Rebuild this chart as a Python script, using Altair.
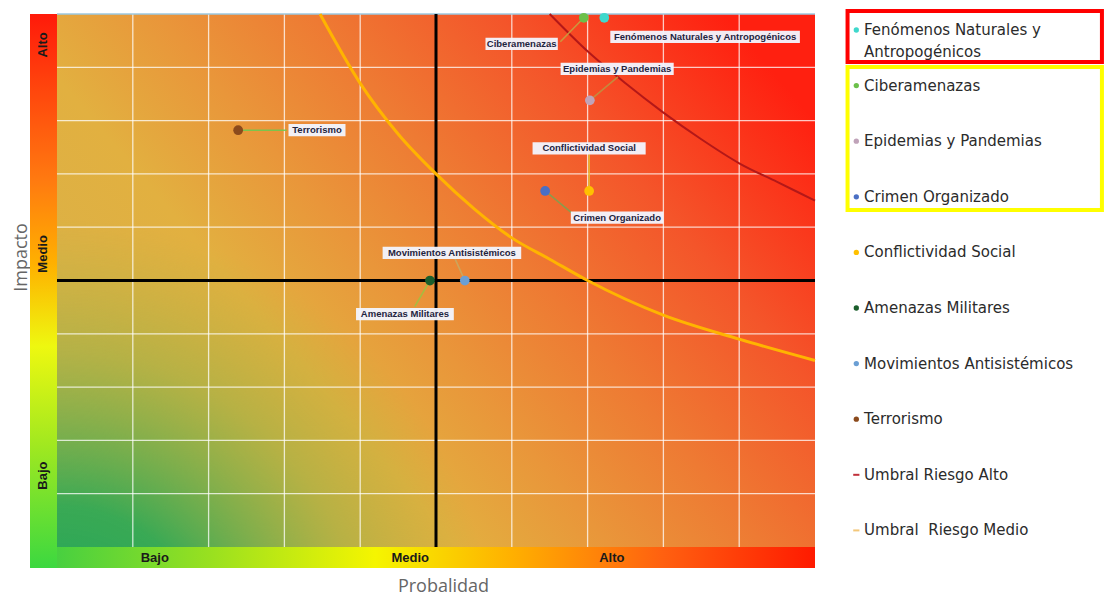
import altair as alt
import pandas as pd

# ---------------- data ----------------
risk_names = ["Fenómenos Naturales y Antropogénicos", "Ciberamenazas", "Epidemias y Pandemias",
              "Crimen Organizado", "Conflictividad Social", "Amenazas Militares",
              "Movimientos Antisistémicos", "Terrorismo"]
risk_prob = [7.22, 6.95, 7.03, 6.44, 7.02, 4.92, 5.38, 2.39]
risk_impact = [9.93, 9.93, 8.38, 6.68, 6.68, 5.0, 5.0, 7.82]
risk_colors = ["#3fd8cc", "#6cc04a", "#c0a3b9", "#4a6fc4", "#ffc000", "#1b5e2c", "#6b9fd4", "#8b4a1c"]

label_prob = [8.55, 6.13, 7.39, 7.39, 7.02, 4.59, 5.21, 3.43]
label_impact = [9.57, 9.44, 8.97, 6.18, 7.48, 4.37, 5.52, 7.82]
leader_prob = [7.22, 6.64, 7.40, 6.79, 7.02, 4.72, 5.25, 3.03]
leader_impact = [9.93, 9.48, 8.82, 6.27, 7.37, 4.51, 5.41, 7.82]
leader_colors = ["#c8a040", "#c8a040", "#c09040", "#80a050", "#e8c030", "#a0c040", "#c8a860", "#70c850"]

thr_alto_prob = [6.5, 7.0, 7.5, 8.0, 8.5, 9.0, 9.5, 10.0]
thr_alto_impact = [10.0, 9.3, 8.7, 8.15, 7.65, 7.2, 6.85, 6.5]
thr_medio_prob = [3.47, 4.0, 4.5, 5.0, 5.5, 6.0, 6.5, 7.0, 8.0, 9.0, 10.0]
thr_medio_impact = [10.0, 8.7, 7.75, 7.0, 6.35, 5.8, 5.4, 5.0, 4.35, 3.9, 3.5]

grid_values = [1, 2, 3, 4, 6, 7, 8, 9]
center_value = [5]

x_tick_labels = ["Bajo", "Medio", "Alto"]
x_tick_pos = [1.29, 4.66, 7.32]
y_tick_labels = ["Bajo", "Medio", "Alto"]
y_tick_pos = [1.34, 5.50, 9.42]

legend_names = risk_names + ["Umbral Riesgo Alto", "Umbral  Riesgo Medio"]
legend_colors = risk_colors + ["#c0303a", "#f3c77a"]
legend_text = ["Fenómenos Naturales y", "Antropogénicos", "Ciberamenazas", "Epidemias y Pandemias",
               "Crimen Organizado", "Conflictividad Social", "Amenazas Militares",
               "Movimientos Antisistémicos", "Terrorismo", "Umbral Riesgo Alto", "Umbral\u00a0\u00a0Riesgo Medio"]
legend_text_row = [0, 0.4, 1, 2, 3, 4, 5, 6, 7, 8, 9]

# ---------------- scales ----------------
P_MIN, P_MAX = 0, 10
X_MIN, Y_MIN, Y_MAX = -0.3562, -0.394, 10.113
xs = alt.Scale(domain=[X_MIN, P_MAX], nice=False, zero=False)
ys = alt.Scale(domain=[Y_MIN, Y_MAX], nice=False, zero=False)
TITLE_FONT = "Open Sans"
xaxis = alt.Axis(labels=False, ticks=False, domain=False, grid=False, title="Probalidad",
                 titleFont=TITLE_FONT, titleFontSize=18, titleFontWeight="normal", titleColor="#666666",
                 titleX=413, titleY=23, titleBaseline="alphabetic")
yaxis = alt.Axis(labels=False, ticks=False, domain=False, grid=False, title="Impacto",
                 titleFont=TITLE_FONT, titleFontSize=18, titleFontWeight="normal", titleColor="#666666",
                 titleX=-4, titleY=249, titleAngle=270, titleBaseline="alphabetic", titleAlign="center")


def X(f):
    return alt.X(f, type="quantitative", scale=xs, axis=xaxis)


def Y(f):
    return alt.Y(f, type="quantitative", scale=ys, axis=yaxis)


box = pd.DataFrame({"x": [P_MIN], "x2": [P_MAX], "y": [P_MIN], "y2": [P_MAX]})

base_grad = alt.LinearGradient(gradient="linear", x1=0, y1=0.8, x2=1, y2=0.2, stops=[
    alt.GradientStop(offset=0, color="#d6b24a"), alt.GradientStop(offset=0.3, color="#e2b040"),
    alt.GradientStop(offset=0.45, color="#e9963a"), alt.GradientStop(offset=0.6, color="#ee7a33"),
    alt.GradientStop(offset=0.78, color="#f4552a"), alt.GradientStop(offset=1, color="#ff2010")])
green_grad = alt.RadialGradient(gradient="radial", x1=0, y1=1, r1=0, x2=0, y2=1, r2=0.58, stops=[
    alt.GradientStop(offset=0, color="rgba(20,166,92,1)"),
    alt.GradientStop(offset=0.35, color="rgba(36,168,86,0.88)"),
    alt.GradientStop(offset=0.7, color="rgba(110,178,70,0.35)"),
    alt.GradientStop(offset=1, color="rgba(150,180,60,0)")])
left_grad = alt.LinearGradient(gradient="linear", x1=0, y1=0, x2=0, y2=1, stops=[
    alt.GradientStop(offset=0, color="#ff1a0a"), alt.GradientStop(offset=0.3, color="#ff7a10"),
    alt.GradientStop(offset=0.45, color="#ffb000"), alt.GradientStop(offset=0.6, color="#eef810"),
    alt.GradientStop(offset=0.78, color="#a0e820"), alt.GradientStop(offset=1, color="#3cd840")])
bottom_grad = alt.LinearGradient(gradient="linear", x1=0, y1=0, x2=1, y2=0, stops=[
    alt.GradientStop(offset=0, color="#48d040"), alt.GradientStop(offset=0.2, color="#98e020"),
    alt.GradientStop(offset=0.42, color="#f5f500"), alt.GradientStop(offset=0.6, color="#ffb000"),
    alt.GradientStop(offset=0.8, color="#ff6010"), alt.GradientStop(offset=1, color="#ff1a00")])

bg = alt.Chart(box).mark_rect(fill=base_grad).encode(x=X("x"), x2="x2", y=Y("y"), y2="y2")
green = alt.Chart(box).mark_rect(fill=green_grad).encode(x=X("x"), x2="x2", y=Y("y"), y2="y2")
left_strip = alt.Chart(pd.DataFrame({"x": [X_MIN], "x2": [P_MIN], "y": [Y_MIN], "y2": [P_MAX]})).mark_rect(
    fill=left_grad).encode(x=X("x"), x2="x2", y=Y("y"), y2="y2")
bottom_strip = alt.Chart(pd.DataFrame({"x": [P_MIN], "x2": [P_MAX], "y": [Y_MIN], "y2": [P_MIN]})).mark_rect(
    fill=bottom_grad).encode(x=X("x"), x2="x2", y=Y("y"), y2="y2")

grid_df = pd.DataFrame({"g": grid_values, "lo": P_MIN, "hi": P_MAX})
vgrid = alt.Chart(grid_df).mark_rule(color="white", strokeWidth=1.3, opacity=0.75).encode(
    x=X("g"), y=Y("lo"), y2="hi")
hgrid = alt.Chart(grid_df).mark_rule(color="white", strokeWidth=1.3, opacity=0.75).encode(
    y=Y("g"), x=X("lo"), x2="hi")
top_border = alt.Chart(pd.DataFrame({"g": [P_MAX], "lo": [P_MIN], "hi": [P_MAX]})).mark_rule(
    color="#9cc8e0", strokeWidth=1.5).encode(y=Y("g"), x=X("lo"), x2="hi")

c_df = pd.DataFrame({"c": center_value, "lo": P_MIN, "hi": P_MAX})
vcenter = alt.Chart(c_df).mark_rule(color="black", strokeWidth=3).encode(x=X("c"), y=Y("lo"), y2="hi")
hcenter = alt.Chart(c_df).mark_rule(color="black", strokeWidth=3).encode(y=Y("c"), x=X("lo"), x2="hi")

medio = alt.Chart(pd.DataFrame({"p": thr_medio_prob, "i": thr_medio_impact})).mark_line(
    color="#ffb400", strokeWidth=3, interpolate="monotone").encode(x=X("p"), y=Y("i"))
alto = alt.Chart(pd.DataFrame({"p": thr_alto_prob, "i": thr_alto_impact})).mark_line(
    color="#b41818", strokeWidth=2, interpolate="monotone").encode(x=X("p"), y=Y("i"))

risk_df = pd.DataFrame({"name": risk_names, "p": risk_prob, "i": risk_impact, "col": risk_colors,
                        "lp": label_prob, "li": label_impact, "ep": leader_prob, "ei": leader_impact,
                        "lc": leader_colors})

leaders = alt.Chart(risk_df).mark_rule(strokeWidth=1.6, opacity=0.9).encode(
    x=X("p"), y=Y("i"), x2="ep", y2="ei", color=alt.Color("lc:N", scale=None))

label_boxes = alt.Chart(risk_df).transform_calculate(
    hw="(length(datum.name) * 5.1 + 6) / 75.8 / 2"
).transform_calculate(
    bx1="datum.lp - datum.hw", bx2="datum.lp + datum.hw", by1="datum.li - 0.115", by2="datum.li + 0.115"
).mark_rect(fill="#f2f6ff", opacity=0.95).encode(x=X("bx1"), x2="bx2", y=Y("by1"), y2="by2")

label_text = alt.Chart(risk_df).mark_text(font="Liberation Sans", fontSize=9.5, fontWeight="bold",
                                          color="#1f2440", align="center", baseline="middle").encode(
    x=X("lp"), y=Y("li"), text="name:N")

points = alt.Chart(risk_df).mark_circle(size=95, opacity=1).encode(
    x=X("p"), y=Y("i"), color=alt.Color("col:N", scale=None))

xt = alt.Chart(pd.DataFrame({"lab": x_tick_labels, "pos": x_tick_pos, "c": (Y_MIN + P_MIN) / 2})).mark_text(
    font="Liberation Sans", fontSize=13, fontWeight="bold", color="#1a1a1a", baseline="middle").encode(
    x=X("pos"), y=Y("c"), text="lab:N")
yt = alt.Chart(pd.DataFrame({"lab": y_tick_labels, "pos": y_tick_pos, "c": (X_MIN + P_MIN) / 2})).mark_text(
    font="Liberation Sans", fontSize=13, fontWeight="bold", color="#1a1a1a", baseline="middle",
    angle=270).encode(x=X("c"), y=Y("pos"), text="lab:N")

main = alt.layer(bg, green, left_strip, bottom_strip, vgrid, hgrid, top_border, vcenter, hcenter,
                 medio, alto, leaders, label_boxes, label_text, points, xt, yt).properties(
    width=785, height=560)

# ---------------- legend panel ----------------
lxs = alt.Scale(domain=[0, 1], nice=False, zero=False)
lys = alt.Scale(domain=[-0.396, 9.676], nice=False, zero=False, reverse=True)


def LX(f):
    return alt.X(f, type="quantitative", scale=lxs, axis=None)


def LY(f):
    return alt.Y(f, type="quantitative", scale=lys, axis=None)


boxes_df = pd.DataFrame({"x": [0.006, 0.006], "x2": [0.992, 0.992], "y": [-0.342, 0.665],
                         "y2": [0.576, 3.237], "col": ["#ff0000", "#ffff00"]})
leg_boxes = alt.Chart(boxes_df).mark_rect(fill=None, strokeWidth=4).encode(
    x=LX("x"), x2="x2", y=LY("y"), y2="y2", stroke=alt.Stroke("col:N", scale=None))

leg_dot_df = pd.DataFrame({"row": list(range(len(risk_names))), "col": risk_colors, "x": 0.04})
leg_dots = alt.Chart(leg_dot_df).mark_circle(size=28, opacity=1).encode(
    x=LX("x"), y=LY("row"), color=alt.Color("col:N", scale=None))
leg_dash_df = pd.DataFrame({"row": [8, 9], "col": legend_colors[8:], "x": 0.028, "x2": 0.052})
leg_dash = alt.Chart(leg_dash_df).mark_rule(strokeWidth=2).encode(
    x=LX("x"), x2="x2", y=LY("row"), color=alt.Color("col:N", scale=None))
leg_txt_df = pd.DataFrame({"t": legend_text, "row": legend_text_row, "x": 0.07})
leg_txt = alt.Chart(leg_txt_df).mark_text(font="DejaVu Sans", fontSize=15, color="#2b2b2b", align="left",
                                          baseline="middle").encode(x=LX("x"), y=LY("row"), text="t:N")

legend = alt.layer(leg_boxes, leg_dots, leg_dash, leg_txt).properties(width=258, height=560)

chart = alt.hconcat(main, legend, spacing=24).configure_view(stroke=None).properties(
    padding={"left": 4, "top": 0, "right": 0, "bottom": 0})

chart.save("out.html", embed_options={"renderer": "svg", "actions": False})
